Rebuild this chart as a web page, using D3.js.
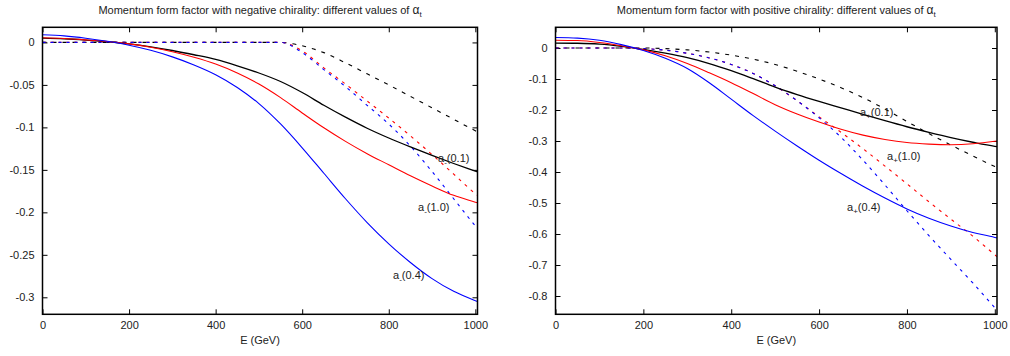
<!DOCTYPE html>
<html>
<head>
<meta charset="utf-8">
<script src="https://cdn.jsdelivr.net/npm/d3@7"></script>
<style>
  body { margin: 0; background: #fff; }
  svg { display: block; font-family: "Liberation Sans", Arial, sans-serif; }
  .tick text { font-size: 11px; fill: #222; }
  .tick line { stroke: #000; stroke-width: 1; }
</style>
</head>
<body>
<div id="chart"></div>
<script>
// energy grid (GeV)
var energy = [0, 50, 100, 150, 200, 250, 300, 350, 400, 450, 500, 550, 600, 650, 700, 750, 800, 850, 900, 950, 1000, 1005];

// negative chirality, solid = full, dashed = approx
var negSolid01 = [0.005, 0.0043, 0.0028, 0.0008, -0.0017, -0.0052, -0.0095, -0.0145, -0.020, -0.0275, -0.036, -0.046, -0.059, -0.074, -0.088, -0.101, -0.1125, -0.123, -0.133, -0.1425, -0.1515, -0.1524];
var negSolid04 = [0.009, 0.0077, 0.005, 0.0013, -0.0033, -0.0093, -0.017, -0.0265, -0.038, -0.053, -0.072, -0.096, -0.124, -0.154, -0.184, -0.212, -0.237, -0.259, -0.278, -0.293, -0.304, -0.305];
var negSolid10 = [0.0055, 0.0047, 0.003, 0.001, -0.0017, -0.0057, -0.011, -0.0175, -0.0255, -0.036, -0.049, -0.065, -0.083, -0.1005, -0.1165, -0.131, -0.144, -0.157, -0.169, -0.180, -0.188, -0.1888];
var negDash01 = [0, 0, 0, 0, 0, 0, 0, 0, 0, 0, 0, 0, -0.004, -0.012, -0.024, -0.037, -0.050, -0.0635, -0.077, -0.0905, -0.104, -0.1053];
var negDash04 = [0, 0, 0, 0, 0, 0, 0, 0, 0, 0, 0, 0, -0.012, -0.032, -0.052, -0.074, -0.096, -0.122, -0.152, -0.184, -0.216, -0.219];
var negDash10 = [0, 0, 0, 0, 0, 0, 0, 0, 0, 0, 0, 0, -0.010, -0.030, -0.049, -0.069, -0.089, -0.110, -0.132, -0.155, -0.178, -0.180];

// positive chirality
var posSolid01 = [0.016, 0.0153, 0.0125, 0.0055, -0.0045, -0.0165, -0.031, -0.050, -0.073, -0.099, -0.126, -0.150, -0.172, -0.193, -0.214, -0.2345, -0.254, -0.272, -0.289, -0.304, -0.317, -0.318];
var posSolid04 = [0.034, 0.032, 0.025, 0.011, -0.008, -0.033, -0.066, -0.112, -0.165, -0.218, -0.268, -0.316, -0.362, -0.405, -0.446, -0.484, -0.519, -0.549, -0.574, -0.595, -0.611, -0.613];
var posSolid10 = [0.025, 0.024, 0.018, 0.0075, -0.006, -0.025, -0.050, -0.080, -0.112, -0.147, -0.183, -0.213, -0.239, -0.262, -0.281, -0.295, -0.305, -0.310, -0.312, -0.309, -0.301, -0.300];
var posDash01 = [0, 0, 0, 0, 0, -0.002, -0.006, -0.013, -0.023, -0.036, -0.053, -0.075, -0.100, -0.128, -0.160, -0.197, -0.237, -0.276, -0.313, -0.348, -0.382, -0.385];
var posDash04 = [0, 0, 0, 0, -0.002, -0.007, -0.017, -0.032, -0.053, -0.082, -0.122, -0.170, -0.225, -0.288, -0.362, -0.442, -0.525, -0.605, -0.682, -0.758, -0.838, -0.846];
var posDash10 = [0, 0, 0, 0, -0.002, -0.007, -0.017, -0.032, -0.053, -0.082, -0.122, -0.170, -0.222, -0.272, -0.325, -0.381, -0.438, -0.496, -0.552, -0.607, -0.667, -0.673];

// ticks
var xTicks = [0, 200, 400, 600, 800, 1000];
var negYTicks = [0, -0.05, -0.1, -0.15, -0.2, -0.25, -0.3];
var posYTicks = [0, -0.1, -0.2, -0.3, -0.4, -0.5, -0.6, -0.7, -0.8];

var W = 1010, H = 356;
var svg = d3.select("#chart").append("svg").attr("width", W).attr("height", H);
svg.append("rect").attr("width", W).attr("height", H).attr("fill", "#fff");

function panel(opt) {
	var x = d3.scaleLinear().domain([0, 1005]).range([opt.left, opt.right]);
	var y = d3.scaleLinear().domain(opt.yDomain).range([314.3, 27.3]);
	var g = svg.append("g");

	var clipId = "clip" + opt.id;
	g.append("clipPath").attr("id", clipId).append("rect")
		.attr("x", opt.left).attr("y", 27.3)
		.attr("width", opt.right - opt.left).attr("height", 314.3 - 27.3);

	var fmt = function (d) { return String(d); };
	// axes, ticks pointing inward, mirrored
	g.append("g").attr("transform", "translate(" + opt.left + ",0)")
		.call(d3.axisLeft(y).tickValues(opt.yTicks).tickSize(-5).tickPadding(8).tickFormat(fmt))
		.call(function (s) { s.select(".domain").remove(); s.selectAll("text").attr("font-family", null).attr("font-size", null); });
	g.append("g").attr("transform", "translate(" + opt.right + ",0)")
		.call(d3.axisRight(y).tickValues(opt.yTicks).tickSize(-5).tickFormat(""))
		.call(function (s) { s.select(".domain").remove(); });
	g.append("g").attr("transform", "translate(0,314.3)")
		.call(d3.axisBottom(x).tickValues(xTicks).tickSize(-5).tickPadding(7).tickFormat(fmt))
		.call(function (s) { s.select(".domain").remove(); s.selectAll("text").attr("font-family", null).attr("font-size", null); });
	g.append("g").attr("transform", "translate(0,27.3)")
		.call(d3.axisTop(x).tickValues(xTicks).tickSize(-5).tickFormat(""))
		.call(function (s) { s.select(".domain").remove(); });

	var line = d3.line()
		.x(function (d, i) { return x(energy[i]); })
		.y(function (d) { return y(d); })
		.curve(d3.curveMonotoneX);

	var lines = g.append("g").attr("clip-path", "url(#" + clipId + ")");
	opt.series.forEach(function (s) {
		lines.append("path")
			.attr("d", line(s.values))
			.attr("fill", "none")
			.attr("stroke", s.color)
			.attr("stroke-width", s.dash ? 1.1 : (s.color == "#000" ? 1.3 : 1.1))
			.attr("stroke-dasharray", s.dash ? (s.color == "#000" ? "4,6" : "3,5") : null);
	});

	g.append("rect")
		.attr("x", opt.left).attr("y", 27.3)
		.attr("width", opt.right - opt.left).attr("height", 314.3 - 27.3)
		.attr("fill", "none").attr("stroke", "#000").attr("stroke-width", 1.5);

	// title
	var cx = (opt.left + opt.right) / 2;
	var t = g.append("text").attr("x", cx).attr("y", 14).attr("text-anchor", "middle")
		.attr("font-size", 11).attr("fill", "#222");
	t.append("tspan").text(opt.title);
	t.append("tspan").text("\u03b1").attr("font-size", 12);
	t.append("tspan").text("t").attr("font-size", 8).attr("dy", 3);

	g.append("text").attr("x", cx).attr("y", 344).attr("text-anchor", "middle")
		.attr("font-size", 11).attr("fill", "#222").text("E (GeV)");

	// curve labels
	opt.labels.forEach(function (l) {
		var lt = g.append("text").attr("x", l.x).attr("y", l.y)
			.attr("font-size", 11).attr("fill", "#222");
		lt.append("tspan").text("a");
		lt.append("tspan").text(opt.sign).attr("font-size", 8).attr("dy", 3);
		lt.append("tspan").text("(" + l.text + ")").attr("dy", -3);
	});
}

panel({
	id: "neg", left: 42.5, right: 477.5, yDomain: [-0.32, 0.0178], yTicks: negYTicks, sign: "-",
	title: "Momentum form factor with negative chirality: different values of ",
	series: [
		{ values: negDash01, color: "#000", dash: true },
		{ values: negDash10, color: "#f00", dash: true },
		{ values: negDash04, color: "#00f", dash: true },
		{ values: negSolid01, color: "#000" },
		{ values: negSolid10, color: "#f00" },
		{ values: negSolid04, color: "#00f" }
	],
	labels: [
		{ text: "0.1", x: 438, y: 162 },
		{ text: "1.0", x: 418, y: 211 },
		{ text: "0.4", x: 393, y: 279 }
	]
});

panel({
	id: "pos", left: 555.5, right: 997, yDomain: [-0.859, 0.0668], yTicks: posYTicks, sign: "+",
	title: "Momentum form factor with positive chirality: different values of ",
	series: [
		{ values: posDash01, color: "#000", dash: true },
		{ values: posDash10, color: "#f00", dash: true },
		{ values: posDash04, color: "#00f", dash: true },
		{ values: posSolid01, color: "#000" },
		{ values: posSolid10, color: "#f00" },
		{ values: posSolid04, color: "#00f" }
	],
	labels: [
		{ text: "0.1", x: 860, y: 116 },
		{ text: "1.0", x: 887, y: 160 },
		{ text: "0.4", x: 847, y: 211 }
	]
});
</script>
</body>
</html>
